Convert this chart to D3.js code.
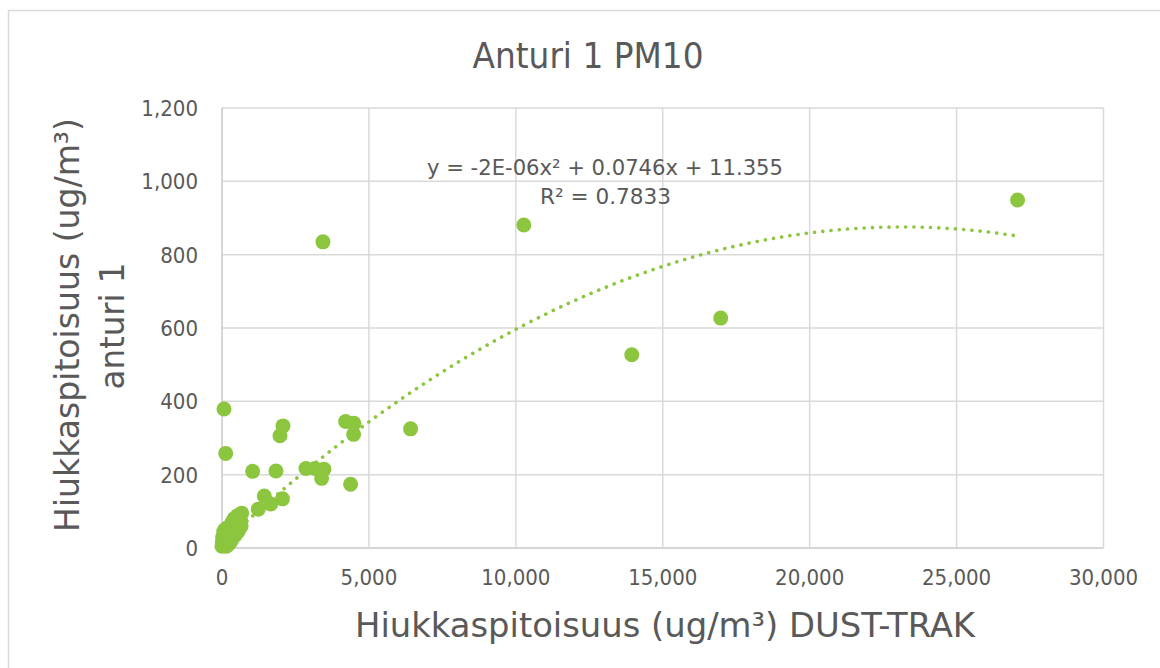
<!DOCTYPE html>
<html><head><meta charset="utf-8">
<script src="https://cdn.jsdelivr.net/npm/d3@7"></script>
<style>
html,body{margin:0;padding:0;background:#fff;}
text{font-family:"DejaVu Sans Condensed","DejaVu Sans",sans-serif;fill:#595959;}
</style></head>
<body><svg id="c" width="1160" height="668"></svg>
<script>
// Data: DUST-TRAK (x) vs anturi 1 (y), ug/m3
const dustTrak = [0,30,50,80,20,100,150,120,200,250,180,250,300,340,300,400,450,420,500,550,520,600,640,650,380,100,60,10,70,
  340,450,550,250,150,300,480,600,
  670,1235,1439,1660,2058,1043,1837,68,126,2857,3163,3469,3390,4207,4490,4480,6418,4376,3435,10272,13946,16973,27075,2075,1973];
const anturi1 = [5,10,20,8,30,15,25,40,30,20,55,45,35,70,60,55,45,80,65,55,88,75,72,60,30,50,45,15,30,
  25,35,45,12,5,18,50,55,
  95,106,142,120,134,209,210,379,258,217,217,215,190,345,340,310,325,174,835,881,527,627,949,333,306];
const xTicks = [0,5000,10000,15000,20000,25000,30000];
const yTicks = [0,200,400,600,800,1000,1200];
const trendCoef = [-1.61e-6, 0.0746, 11.355]; // a, b, c of polynomial trendline
const trendX = [0,1000,2000,3000,4000,5000,6000,7000,8000,9000,10000,11000,12000,13000,14000,15000,16000,17000,18000,19000,20000,21000,22000,23000,24000,25000,26000,27075];
const titleText = "Anturi 1 PM10";
const xTitle = "Hiukkaspitoisuus (ug/m³) DUST-TRAK";
const yTitle = ["Hiukkaspitoisuus (ug/m³)", "anturi 1"];
const eqText = ["y = -2E-06x² + 0.0746x + 11.355", "R² = 0.7833"];

const green = "#8cc63f", grid = "#d9d9d9";
const svg = d3.select("#c");
const x = d3.scaleLinear().domain([0,30000]).range([222,1103.5]);
const y = d3.scaleLinear().domain([0,1200]).range([548,108]);

// outer border
svg.append("path").attr("d","M8.5,680V10.5H1170").attr("fill","none").attr("stroke",grid).attr("stroke-width",1.5);

// gridlines
svg.append("g").selectAll("line").data(yTicks).join("line")
  .attr("x1",x(0)).attr("x2",x(30000)).attr("y1",d=>y(d)).attr("y2",d=>y(d))
  .attr("stroke",d=>d===0?"#c8c8c8":grid).attr("stroke-width",1.5);
svg.append("g").selectAll("line").data(xTicks).join("line")
  .attr("y1",y(0)).attr("y2",y(1200)).attr("x1",d=>x(d)).attr("x2",d=>x(d))
  .attr("stroke",d=>d===0?"#c8c8c8":grid).attr("stroke-width",1.5);

// tick labels
const fmt = d3.format(",");
svg.append("g").selectAll("text").data(yTicks).join("text")
  .attr("x",198).attr("y",d=>y(d)).attr("dy","0.36em").attr("text-anchor","end")
  .attr("font-size",22).text(d=>fmt(d));
svg.append("g").selectAll("text").data(xTicks).join("text")
  .attr("x",d=>x(d)).attr("y",585).attr("text-anchor","middle")
  .attr("font-size",22).text(d=>fmt(d));

// points
const pts = dustTrak.map((d,i)=>[d,anturi1[i]]);
svg.append("g").selectAll("circle").data(pts).join("circle")
  .attr("cx",d=>x(d[0])).attr("cy",d=>y(d[1])).attr("r",7.5).attr("fill",green);

// trendline
const line = d3.line().curve(d3.curveCatmullRom)
  .x(d=>x(d)).y(d=>y(trendCoef[0]*d*d+trendCoef[1]*d+trendCoef[2]));
svg.append("path").attr("d",line(trendX)).attr("fill","none").attr("stroke",green)
  .attr("stroke-width",3.6).attr("stroke-linecap","round").attr("stroke-dasharray","0.1 8.2");

// equation
svg.append("text").attr("x",605).attr("y",175).attr("text-anchor","middle").attr("font-size",21)
  .attr("textLength",356).attr("lengthAdjust","spacingAndGlyphs").text(eqText[0]);
svg.append("text").attr("x",605.5).attr("y",204).attr("text-anchor","middle").attr("font-size",21)
  .attr("textLength",131).attr("lengthAdjust","spacingAndGlyphs").text(eqText[1]);

// title
svg.append("text").attr("x",588).attr("y",68).attr("text-anchor","middle").attr("font-size",36)
  .attr("textLength",231).attr("lengthAdjust","spacingAndGlyphs").text(titleText);

// x title
svg.append("text").attr("x",665).attr("y",637).attr("text-anchor","middle").attr("font-size",34)
  .attr("textLength",620).attr("lengthAdjust","spacingAndGlyphs").text(xTitle);

// y title
svg.append("text").attr("transform","translate(79,325) rotate(-90)").attr("text-anchor","middle")
  .attr("font-size",34).attr("textLength",414).attr("lengthAdjust","spacingAndGlyphs").text(yTitle[0]);
svg.append("text").attr("transform","translate(124,326) rotate(-90)").attr("text-anchor","middle")
  .attr("font-size",34).attr("textLength",127).attr("lengthAdjust","spacingAndGlyphs").text(yTitle[1]);
</script></body></html>
